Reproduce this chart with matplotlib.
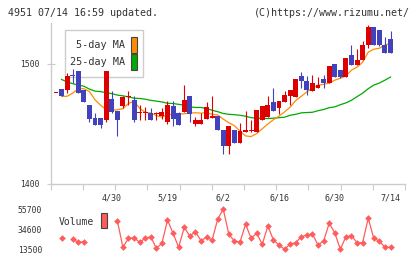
import numpy as np
import matplotlib
matplotlib.use('Agg')
from matplotlib import pyplot as plt
from matplotlib.patches import Rectangle

plt.rcParams['font.family'] = 'DejaVu Sans Mono'

W, H = 420, 259

# date labels (index of trading day)
date_labels = ['4/30', '5/19', '6/2', '6/16', '6/30', '7/14']
date_pos = [10, 20, 30, 40, 50, 60]

# daily prices
opens = [1476, 1479, 1478, 1491, 1494, 1478, 1466, 1455, 1455, 1453,
         1471, 1461, 1465, 1472, 1470, 1459, 1459, 1459, 1458, 1457,
         1452, 1465, 1459, 1460, 1473, 1450, 1450, 1454, 1455, 1457,
         1445, 1432, 1445, 1434, 1443, 1444, 1443, 1453, 1456, 1468,
         1463, 1468, 1473, 1472, 1490, 1486, 1477, 1480, 1487, 1484,
         1500, 1495, 1489, 1507, 1499, 1503, 1516, 1531, 1528, 1516,
         1521]
highs = [1476, 1479, 1492, 1496, 1494, 1478, 1466, 1459, 1455, 1494,
         1477, 1461, 1473, 1477, 1473, 1466, 1464, 1463, 1460, 1463,
         1469, 1469, 1460, 1482, 1473, 1456, 1459, 1468, 1473, 1457,
         1445, 1448, 1445, 1451, 1461, 1453, 1462, 1465, 1473, 1480,
         1469, 1477, 1478, 1487, 1493, 1490, 1491, 1489, 1491, 1498,
         1500, 1495, 1505, 1516, 1512, 1519, 1532, 1531, 1528, 1522,
         1527]
lows = [1476, 1473, 1476, 1484, 1476, 1468, 1452, 1449, 1447, 1452,
        1459, 1440, 1463, 1466, 1452, 1453, 1453, 1453, 1453, 1454,
        1450, 1448, 1449, 1460, 1452, 1448, 1450, 1454, 1455, 1445,
        1425, 1425, 1434, 1434, 1443, 1443, 1443, 1453, 1456, 1461,
        1458, 1468, 1466, 1472, 1480, 1474, 1477, 1480, 1480, 1484,
        1489, 1488, 1489, 1499, 1499, 1503, 1513, 1516, 1515, 1509,
        1509]
closes = [1476, 1473, 1490, 1490, 1476, 1468, 1454, 1449, 1449, 1494,
          1460, 1453, 1472, 1473, 1453, 1460, 1460, 1453, 1459, 1460,
          1466, 1454, 1449, 1470, 1458, 1453, 1453, 1464, 1457, 1445,
          1432, 1448, 1434, 1444, 1445, 1444, 1462, 1465, 1466, 1461,
          1469, 1474, 1478, 1487, 1486, 1478, 1484, 1482, 1484, 1498,
          1489, 1489, 1505, 1499, 1503, 1516, 1531, 1516, 1516, 1509,
          1509]

# moving averages
ma5 = [np.nan, 1473, 1473, 1475.6, 1479.3, 1479.3, 1477, 1470, 1465.6, 1462,
       1461.4, 1461.8, 1462.7, 1467, 1469, 1463, 1459.7, 1459, 1457, 1455.6,
       1457.7, 1458, 1458, 1458.5, 1459, 1459.3, 1459, 1459.3, 1458, 1457.5,
       1454, 1451, 1448.5, 1444, 1440, 1439.5, 1442, 1446, 1450, 1453.5,
       1456.5, 1460, 1464, 1469.5, 1473, 1476.7, 1479.8, 1482.3, 1483, 1483.9,
       1486.4, 1488, 1489.8, 1494.8, 1497.2, 1501.4, 1509.7, 1512.2, 1513, 1515.6,
       1517.2]
ma25 = [np.nan, 1487, 1485, 1483.5, 1482.3, 1481.4, 1479, 1477.3, 1476.9, 1476,
        1475.2, 1474, 1473.4, 1472.5, 1471.4, 1471.2, 1470.6, 1469.6, 1469, 1468.3,
        1467.2, 1467, 1466.3, 1465.6, 1464.2, 1463.7, 1463.7, 1462.7, 1461.4, 1460.2,
        1458.7, 1458, 1457.7, 1457.2, 1456.4, 1455.2, 1454.8, 1454.5, 1454.5, 1454.8,
        1455.2, 1455.6, 1457.2, 1458, 1459.2, 1459.5, 1459.7, 1461, 1462, 1463.5,
        1464.2, 1466, 1467.5, 1469.7, 1472.7, 1475.6, 1479.3, 1482.3, 1484, 1486.4,
        1489]

# volume (nan = off the scale)
volume = [np.nan, 25100, np.nan, 24050, 20900, 21500, np.nan, np.nan, np.nan, np.nan,
          np.nan, 43700, 15600, 25100, 25700, 20900, 25100, 26800, 14550, 19800,
          44400, 30400, 15600, 36700, 27500, 32100, 22600, 26200, 23300, 45100,
          56000, 29300, 22250, 20900, 39900, 25100, 30400, 18800, 38100, 23300,
          18000, 13500, 19100, 20500, 26800, 28600, 29600, 18000, 22250, 40900,
          31000, 13500, 26800, 27900, 20500, 20500, 46200, 25100, 22250, 15600,
          15600]


def fx(px):
    return px / W


def fy(py):
    return 1 - py / H


fig = plt.figure(figsize=(4.2, 2.59), dpi=100)

RED = '#dd0000'
BLUE = '#4242bd'
GRAY = '#cccccc'
TXT = '#333333'

ax = fig.add_axes([fx(50.7), fy(184), fx(405) - fx(50.7), fy(23) - fy(184)])
ax.set_facecolor('none')
idx = np.arange(len(closes))
x0, x1 = -0.95, 62.6

ax.plot(idx, ma25, color='#00aa00', lw=0.9, zorder=1)
ax.plot(idx, ma5, color='#ff8c00', lw=0.9, zorder=1)

for i in idx:
    o, h, l, c = opens[i], highs[i], lows[i], closes[i]
    col = RED if c >= o else BLUE
    ax.vlines(i, l, h, color=col, lw=0.8, zorder=2)
    ax.bar(i, max(abs(c - o), 0.9), bottom=min(o, c), width=0.88,
           color=col, linewidth=0, zorder=3)

ax.set_xlim(x0, x1)
ax.set_ylim(1400, 1534)
for s in ['top', 'right']:
    ax.spines[s].set_visible(False)
for s in ['left', 'bottom']:
    ax.spines[s].set_color(GRAY)
    ax.spines[s].set_linewidth(1)

ax.set_yticks([1400, 1500])
ax.set_yticklabels(['1400', '1500'])
ax.tick_params(axis='y', direction='inout', length=6, color=GRAY,
               labelsize=5.8, labelcolor=TXT, pad=5)
ax.set_xticks(np.linspace(x0, x1, 12))
ax.set_xticklabels([])
ax.tick_params(axis='x', which='major', direction='out', length=4, color=GRAY)
ax.set_xticks(date_pos, minor=True)
ax.set_xticklabels(date_labels, minor=True)
ax.tick_params(axis='x', which='minor', length=0, labelsize=6,
               labelcolor=TXT, pad=6.5)

# volume pane
vx = fig.add_axes([fx(50.7), fy(253), fx(405) - fx(50.7), fy(205) - fy(253)])
vx.set_facecolor('none')
vx.plot(idx, volume, color='#ff5c5c', lw=0.9, marker='D', markersize=3.4,
        markeredgewidth=0)
vx.set_xlim(x0, x1)
vx.set_ylim(9600, 60240)
for s in vx.spines.values():
    s.set_visible(False)
vx.set_xticks([])
vx.set_yticks([13500, 34600, 55700])
vx.set_yticklabels(['13500', '34600', '55700'])
vx.tick_params(axis='y', length=0, labelsize=5.8, labelcolor=TXT, pad=6)

# legend box (behind the candles)
fig.patches.append(Rectangle((fx(65), fy(77)), fx(143) - fx(65), fy(30) - fy(77),
                             transform=fig.transFigure, facecolor='white',
                             edgecolor=GRAY, lw=1, zorder=-1))
fig.text(fx(125), fy(45), '5-day MA', ha='right', va='center', fontsize=7.3,
         color=TXT, zorder=6)
fig.text(fx(125), fy(62), '25-day MA', ha='right', va='center', fontsize=7.3,
         color=TXT, zorder=6)
fig.patches.append(Rectangle((fx(131), fy(53)), fx(137) - fx(131), fy(37) - fy(53),
                             transform=fig.transFigure, facecolor='#ff8c00',
                             edgecolor='#444444', lw=0.8, zorder=6))
fig.patches.append(Rectangle((fx(131), fy(69.5)), fx(137) - fx(131), fy(54) - fy(69.5),
                             transform=fig.transFigure, facecolor='#00aa00',
                             edgecolor='#444444', lw=0.8, zorder=6))

fig.text(fx(59), fy(222), 'Volume', ha='left', va='center', fontsize=7,
         color=TXT)
fig.patches.append(Rectangle((fx(101), fy(228)), fx(107) - fx(101), fy(213) - fy(228),
                             transform=fig.transFigure, facecolor='#ff5c5c',
                             edgecolor='#444444', lw=0.8))

fig.text(fx(8), fy(13), '4951 07/14 16:59 updated.', ha='left', va='center',
         fontsize=7.2, color=TXT)
fig.text(fx(410), fy(13), '(C)https://www.rizumu.net/', ha='right', va='center',
         fontsize=7.2, color=TXT)

fig.savefig('out.png', dpi=100)
